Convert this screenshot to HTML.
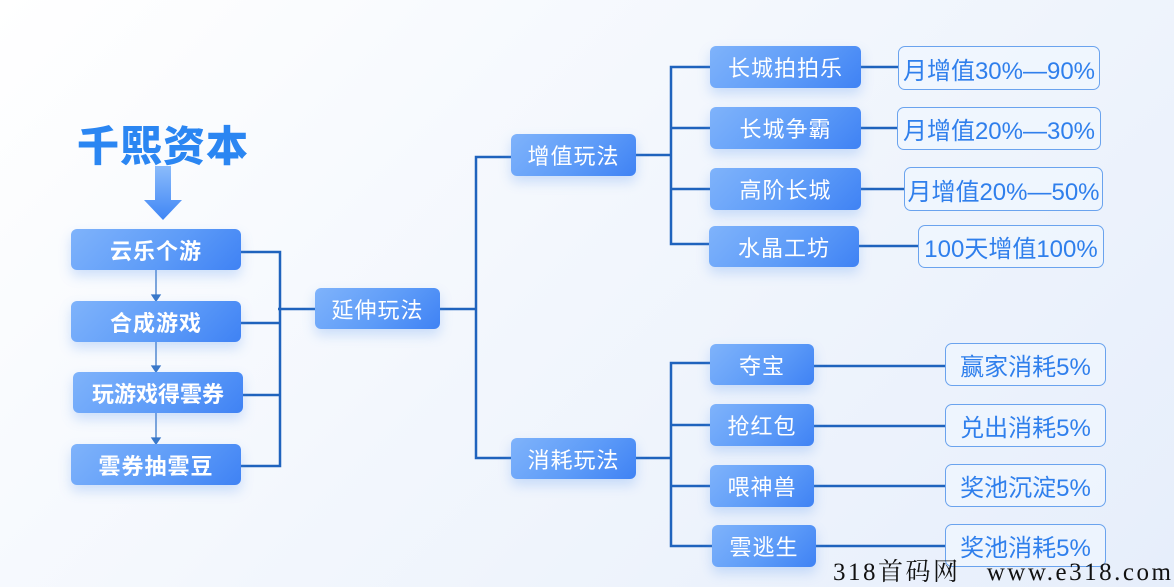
<!DOCTYPE html>
<html><head><meta charset="utf-8"><style>
*{margin:0;padding:0;box-sizing:border-box}
html,body{width:1174px;height:587px;overflow:hidden}
body{position:relative;background:linear-gradient(135deg,#ffffff 0%,#f3f7fd 45%,#e6eefb 100%);font-family:"Liberation Sans","Noto Sans CJK SC",sans-serif}
.b{position:absolute;border-radius:6px;background:linear-gradient(135deg,#7fb3fb 0%,#5e9cf8 55%,#3f82f4 100%);color:#fff;font-size:22px;display:flex;align-items:center;justify-content:center;box-shadow:0 6px 12px rgba(90,150,240,.28);letter-spacing:1px}
.bb{font-weight:bold}
.v{position:absolute;border:1.5px solid #6aa3ee;border-radius:7px;background:rgba(240,246,255,.7);color:#2f7fec;font-size:24px;display:flex;align-items:center;justify-content:center;white-space:nowrap}
</style></head><body>
<svg width="1174" height="587" style="position:absolute;left:0;top:0">
<g stroke="#1f63bd" stroke-width="2.5" fill="none">
<path d="M241 252H280V466H241M241 323H280M243 395H280M278 309H315"/>
<path d="M440 309H476M511 157H476V458H511"/>
<path d="M636 155H671M710 67H671V244H709M671 128H710M671 189H710"/>
<path d="M861 67H898M861 128H897M861 189H904M859 246H918"/>
<path d="M636 458H671M710 363H671V546H712M671 425H710M671 486H710"/>
<path d="M814 366H945M814 426H945M814 486H945M816 546H945"/>
</g>
<g stroke="#3a78c9" stroke-width="1.3" fill="#3a78c9">
<path d="M156 270V297M156 342V368M156 413V440" fill="none"/>
<path d="M152 295L156 301L160 295ZM152 366L156 372L160 366ZM152 438L156 444L160 438Z"/>
</g>
<defs><linearGradient id="ag" x1="0" y1="0" x2="0" y2="1"><stop offset="0" stop-color="#8bbcfb"/><stop offset="1" stop-color="#3f86f5"/></linearGradient></defs>
<path d="M155 166H171V200H182L163 220L144 200H155Z" fill="url(#ag)"/>
</svg>
<div style="position:absolute;left:77px;top:113px;font-size:42px;font-weight:900;color:#2b86f2;letter-spacing:1px">千熙资本</div>
<div class="b bb" style="left:71px;top:229px;width:170px;height:41px">云乐个游</div>
<div class="b bb" style="left:71px;top:301px;width:170px;height:41px">合成游戏</div>
<div class="b bb" style="left:73px;top:372px;width:170px;height:41px;letter-spacing:0">玩游戏得雲券</div>
<div class="b bb" style="left:71px;top:444px;width:170px;height:41px">雲券抽雲豆</div>
<div class="b" style="left:315px;top:288px;width:125px;height:41px">延伸玩法</div>
<div class="b" style="left:511px;top:134px;width:125px;height:42px">增值玩法</div>
<div class="b" style="left:511px;top:438px;width:125px;height:41px">消耗玩法</div>
<div class="b" style="left:710px;top:46px;width:151px;height:42px">长城拍拍乐</div>
<div class="b" style="left:710px;top:107px;width:151px;height:42px">长城争霸</div>
<div class="b" style="left:710px;top:168px;width:151px;height:42px">高阶长城</div>
<div class="b" style="left:709px;top:226px;width:150px;height:41px">水晶工坊</div>
<div class="v" style="left:898px;top:46px;width:202px;height:44px">月增值30%—90%</div>
<div class="v" style="left:897px;top:107px;width:204px;height:43px">月增值20%—30%</div>
<div class="v" style="left:904px;top:167px;width:199px;height:44px">月增值20%—50%</div>
<div class="v" style="left:918px;top:225px;width:186px;height:43px">100天增值100%</div>
<div class="b" style="left:710px;top:344px;width:104px;height:41px">夺宝</div>
<div class="b" style="left:710px;top:404px;width:104px;height:42px">抢红包</div>
<div class="b" style="left:710px;top:465px;width:104px;height:42px">喂神兽</div>
<div class="b" style="left:712px;top:525px;width:104px;height:42px">雲逃生</div>
<div class="v" style="left:945px;top:343px;width:161px;height:43px">赢家消耗5%</div>
<div class="v" style="left:945px;top:404px;width:161px;height:43px">兑出消耗5%</div>
<div class="v" style="left:945px;top:464px;width:161px;height:43px">奖池沉淀5%</div>
<div class="v" style="left:945px;top:524px;width:161px;height:43px">奖池消耗5%</div>
<div style="position:absolute;left:833px;top:558px;font-family:'Liberation Serif','Noto Serif CJK SC',serif;font-size:25px;line-height:29px;color:#111;white-space:nowrap;letter-spacing:2.5px">318首码网&nbsp;&nbsp;&nbsp;www.e318.com</div>
</body></html>
